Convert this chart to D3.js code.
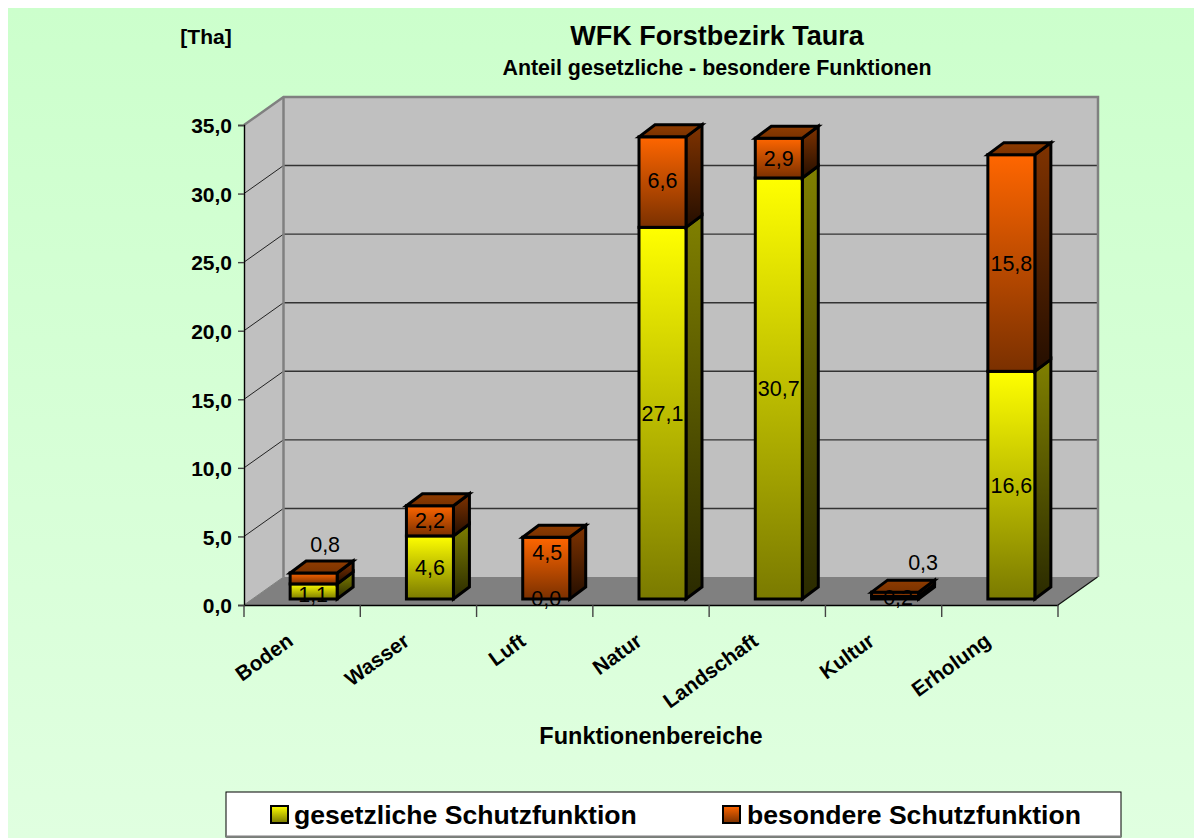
<!DOCTYPE html>
<html><head><meta charset="utf-8">
<script src="https://cdn.jsdelivr.net/npm/d3@7"></script>
<style>html,body{margin:0;padding:0;background:#fff;overflow:hidden}
text{font-family:"Liberation Sans",Arial,sans-serif;fill:#000}</style></head>
<body><svg id="c" width="1194" height="838"></svg>
<script>
const categories = ["Boden","Wasser","Luft","Natur","Landschaft","Kultur","Erholung"];
const gesetzliche = [1.1,4.6,0.0,27.1,30.7,0.2,16.6];
const besondere = [0.8,2.2,4.5,6.6,2.9,0.3,15.8];
const yTicks = [0,5,10,15,20,25,30,35];
const seriesNames = ["gesetzliche Schutzfunktion","besondere Schutzfunktion"];
const fmt = v => d3.format(".1f")(v).replace(".",",");

const svg = d3.select("#c");
const defs = svg.append("defs");
function grad(id,a,b){
  const g = defs.append("linearGradient").attr("id",id).attr("x1",0).attr("y1",0).attr("x2",0).attr("y2",1);
  g.append("stop").attr("offset",0).attr("stop-color",a);
  g.append("stop").attr("offset",1).attr("stop-color",b);
}
grad("bg","#ccffcc","#e0ffe0");
grad("yF","#ffff00","#7a7a00");
grad("yS","#808000","#2a2a00");
grad("oF","#ff6600","#7a3000");
grad("oS","#803300","#240e00");
grad("oT","#8f3c00","#7a3200");

svg.append("rect").attr("x",8).attr("y",8).attr("width",1186).attr("height",830).attr("fill","url(#bg)");

const x = d3.scaleBand().domain(categories).range([244,1058]);
const y = d3.scaleLinear().domain([0,35]).range([605,125]);
// 3D projection of the chart box and of the bars within it
const depth = {dx:39.5, dy:-28};
const bar = {w:47, dx:16, dy:-12, ox:11.5, oy:-6};
const X0 = x.range()[0], X1 = x.range()[1], Y0 = y(0), Y1 = y(35);

// walls
const wallStroke = "#808080";
svg.append("polygon").attr("fill","#c0c0c0")
  .attr("points",[[X0,Y0],[X0,Y1],[X0+depth.dx,Y1+depth.dy],[X0+depth.dx,Y0+depth.dy]].join(" "));
svg.append("rect").attr("fill","#c0c0c0").attr("x",X0+depth.dx).attr("y",Y1+depth.dy)
  .attr("width",X1-X0).attr("height",Y0-Y1);
svg.append("polygon").attr("fill","#808080")
  .attr("points",[[X0,Y0],[X0+depth.dx,Y0+depth.dy],[X1+depth.dx,Y0+depth.dy],[X1,Y0]].join(" "));

// gridlines
const grid = svg.append("g");
yTicks.filter(t=>t>0 && t<35).forEach(t=>{
  grid.append("line").attr("x1",X0+depth.dx).attr("x2",X1+depth.dx)
    .attr("y1",y(t)+depth.dy).attr("y2",y(t)+depth.dy).attr("stroke","#333").attr("stroke-width",1.4);
  grid.append("line").attr("x1",X0).attr("x2",X0+depth.dx)
    .attr("y1",y(t)).attr("y2",y(t)+depth.dy).attr("stroke","#222").attr("stroke-width",1);
});
// wall edges
svg.append("path").attr("fill","none").attr("stroke",wallStroke).attr("stroke-width",2.5)
  .attr("d",`M${X0},${Y1}L${X0+depth.dx},${Y1+depth.dy}H${X1+depth.dx+.5}V${Y0+depth.dy}`);
svg.append("line").attr("x1",X0+depth.dx).attr("x2",X0+depth.dx).attr("y1",Y1+depth.dy).attr("y2",Y0+depth.dy)
  .attr("stroke",wallStroke).attr("stroke-width",2.5);
svg.append("line").attr("x1",X0).attr("x2",X0+depth.dx).attr("y1",Y0).attr("y2",Y0+depth.dy)
  .attr("stroke","#808080").attr("stroke-width",1);
svg.append("line").attr("x1",X1).attr("x2",X1+depth.dx).attr("y1",Y0).attr("y2",Y0+depth.dy)
  .attr("stroke","#111").attr("stroke-width",1.2);

// bars
const barsG = svg.append("g").attr("stroke","#000").attr("stroke-width",3).attr("stroke-linejoin","miter");
function segment(cat,v0,v1,front,side,top){
  const l = x(cat)+x.bandwidth()/2+bar.ox-bar.w/2, r = l+bar.w;
  const b = y(v0)+bar.oy, t = y(v1)+bar.oy;
  barsG.append("polygon").attr("fill",`url(#${side})`)
    .attr("points",[[r,b],[r,t],[r+bar.dx,t+bar.dy],[r+bar.dx,b+bar.dy]].join(" "));
  barsG.append("rect").attr("fill",`url(#${front})`).attr("x",l).attr("y",t).attr("width",bar.w).attr("height",Math.max(b-t,0));
  if(top) barsG.append("polygon").attr("fill",`url(#${top})`)
    .attr("points",[[l,t],[l+bar.dx,t+bar.dy],[r+bar.dx,t+bar.dy],[r,t]].join(" "));
}
categories.forEach((c,i)=>{
  if(gesetzliche[i]>0) segment(c,0,gesetzliche[i],"yF","yS",null);
  segment(c,gesetzliche[i],gesetzliche[i]+besondere[i],"oF","oS","oT");
});

// axes
const axL = svg.append("g").attr("transform",`translate(${X0},0)`)
  .call(d3.axisLeft(y).tickValues(yTicks).tickFormat(fmt).tickSize(6).tickPadding(6));
const axB = svg.append("g").attr("transform",`translate(0,${Y0})`)
  .call(d3.axisBottom(x).tickSize(0).tickFormat(""));
axL.select(".domain").attr("stroke","#000").attr("stroke-width",1.4);
axL.selectAll(".tick line").attr("stroke","#444").attr("stroke-width",1.4);
axL.selectAll("text").attr("font-size",21).attr("font-weight","bold").attr("font-family",'"Liberation Sans",Arial,sans-serif').attr("y",1);
axB.select(".domain").attr("stroke","#000").attr("stroke-width",1.4);
axB.selectAll(".tick line").remove();
const bounds = categories.map(c=>x(c)).concat([X1]);
svg.append("g").selectAll("line").data(bounds).join("line")
  .attr("x1",d=>d).attr("x2",d=>d).attr("y1",Y0).attr("y2",Y0+12).attr("stroke","#444").attr("stroke-width",1.4);
axB.selectAll(".tick text").remove();
svg.append("g").selectAll("text").data(categories).join("text")
  .attr("transform",d=>`translate(${x(d)+x.bandwidth()/2-12},${Y0+33}) rotate(-36)`)
  .attr("text-anchor","end").attr("font-size",20.8).attr("font-weight","bold").attr("dy","0.35em")
  .text(d=>d);

// data labels; the chart had a few hand-moved labels
const nudgeLow = {0:[-.5,3.5],2:[0,-1],5:[3,0]};
const nudgeHigh = {0:[11.5,-34],2:[1,-16],3:[0,-2],5:[28,-32]};
const labels = svg.append("g");
function label(i,v0,v,nudge){
  const n = nudge[i]||[0,0];
  labels.append("text").attr("text-anchor","middle").attr("dy","0.35em")
    .attr("font-size",21.5)
    .attr("x",x(categories[i])+x.bandwidth()/2+bar.ox+n[0])
    .attr("y",(y(v0)+y(v0+v))/2+bar.oy+n[1]).text(fmt(v));
}
categories.forEach((c,i)=>{
  label(i,0,gesetzliche[i],nudgeLow);
  label(i,gesetzliche[i],besondere[i],nudgeHigh);
});

// titles
const T = (s,xx,yy,fs,anchor)=>svg.append("text").attr("x",xx).attr("y",yy).attr("font-size",fs)
  .attr("font-weight","bold").attr("text-anchor",anchor||"middle").text(s);
T("WFK Forstbezirk Taura",717,45,27);
T("Anteil gesetzliche - besondere Funktionen",717,75,21.4);
T("[Tha]",206,44,21);
T("Funktionenbereiche",651,744,23.5);

// legend
svg.append("rect").attr("x",226).attr("y",792).attr("width",895).attr("height",45)
  .attr("fill","#fff").attr("stroke","#000").attr("stroke-width",1);
svg.append("line").attr("x1",226).attr("x2",1121).attr("y1",836.5).attr("y2",836.5).attr("stroke","#808080").attr("stroke-width",2);
const legend = [[271,"yF",seriesNames[0],294],[723,"oF",seriesNames[1],747]];
legend.forEach(([sx,g,s,tx])=>{
  svg.append("rect").attr("x",sx).attr("y",806).attr("width",17).attr("height",17)
    .attr("fill",`url(#${g})`).attr("stroke","#000").attr("stroke-width",2);
  T(s,tx,824,26.6,"start");
});
</script></body></html>
